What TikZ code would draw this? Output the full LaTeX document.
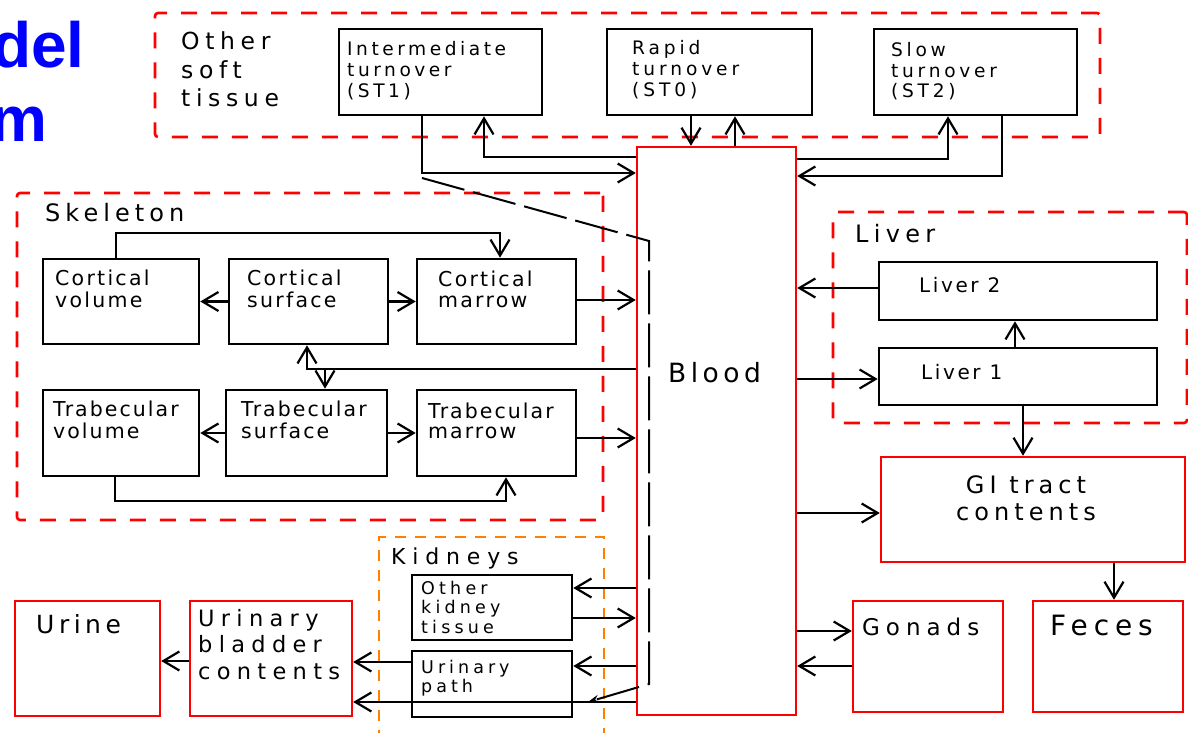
\documentclass[tikz,border=0pt]{standalone}
\usepackage{fontspec}
\setmainfont{DejaVu Sans}
\newfontfamily\headfont{Liberation Sans}
\usetikzlibrary{arrows.meta}
\definecolor{grpred}{RGB}{255,0,0}
\definecolor{kidorange}{RGB}{255,128,0}
\definecolor{titleblue}{RGB}{0,0,255}

% size, letter spacing
\newcommand\fz[2]{\fontsize{#1}{#1}\selectfont\addfontfeatures{LetterSpace=#2}}
% stacked lines: first baseline is the box baseline
\newcommand\lns[2]{\vtop{\baselineskip=#1\relax\lineskiplimit=-\maxdimen\let\\\cr\halign{##\hfil\cr#2\crcr}}}
\newcommand\clns[2]{\vtop{\baselineskip=#1\relax\lineskiplimit=-\maxdimen\let\\\cr\halign{\hfil##\hfil\cr#2\crcr}}}

\begin{document}
\begin{tikzpicture}[x=1pt,y=-1pt,
  grp/.style={draw=grpred, line width=2.6pt, dash pattern=on 16pt off 14pt, rounded corners=3pt, inner sep=0pt},
  kgrp/.style={draw=kidorange, line width=2.6pt, dash pattern=on 11pt off 9pt, inner sep=0pt},
  blk/.style={draw=black, line width=2.6pt, inner sep=0pt},
  rbox/.style={draw=grpred, line width=2.4pt, inner sep=0pt},
  txt/.style={inner sep=0pt, anchor=base west},
  ctxt/.style={inner sep=0pt, anchor=base},
  arr/.style={line width=2.2pt, -{Straight Barb[length=16pt,width=19pt]}},
  lds/.style={line width=2pt, dash pattern=on 44pt off 9pt, -{Stealth[length=11pt,width=8pt]}}]

\useasboundingbox (0,0) rectangle (1188,733);
\fill[white] (0,0) rectangle (1188,733);

% heading fragment
\node[txt, text=titleblue, font=\headfont\bfseries\fontsize{64}{64}\selectfont] (hd1) at (-8,68) {del};
\node[txt, text=titleblue, font=\headfont\bfseries\fontsize{64}{64}\selectfont] (hd2) at (-10,142) {m};

% compartment groups
\node[grp, minimum width=945, minimum height=124] (gost) at (627.5,75) {};
\node[grp, minimum width=586, minimum height=327] (gskel) at (310,356.5) {};
\node[grp, minimum width=354, minimum height=211] (gliv) at (1010,317.5) {};
\node[kgrp, minimum width=225, minimum height=197] (gkid) at (491.5,635.5) {};

\node[txt, font=\fz{23.5}{24}] (lost) at (181,50) {\lns{28.5pt}{Other\\soft\\tissue}};
\node[txt, font=\fz{24}{21}] (lskel) at (45,221) {Skeleton};
\node[txt, font=\fz{24}{22}] (lliv) at (855,242) {Liver};
\node[txt, font=\fz{22}{31}] (lkid) at (391,564) {Kidneys};

% soft tissue compartments
\node[blk, minimum width=203, minimum height=86] (st1) at (440.5,72) {};
\node[blk, minimum width=205, minimum height=86] (st0) at (709.5,72) {};
\node[blk, minimum width=203, minimum height=86] (st2) at (975.5,72) {};
\node[txt, font=\fz{18.6}{19}] (tst1) at (347,56) {\lns{21pt}{Intermediate\\turnover\\(ST1)}};
\node[txt, font=\fz{18.6}{21}] (tst0) at (632,55) {\lns{21pt}{Rapid\\turnover\\(ST0)}};
\node[txt, font=\fz{18.6}{20}] (tst2) at (891,57) {\lns{20.5pt}{Slow\\turnover\\(ST2)}};

% skeleton compartments
\node[blk, minimum width=156, minimum height=85] (cv) at (121,301.5) {};
\node[blk, minimum width=159, minimum height=85] (cs) at (308.5,301.5) {};
\node[blk, minimum width=159, minimum height=85] (cm) at (496.5,301.5) {};
\node[blk, minimum width=156, minimum height=86] (tv) at (121,433) {};
\node[blk, minimum width=161, minimum height=86] (ts) at (306.5,433) {};
\node[blk, minimum width=159, minimum height=86] (tm) at (496.5,433) {};
\node[txt, font=\fz{20.5}{11}] (tcv) at (55,285) {\lns{22pt}{Cortical\\volume}};
\node[txt, font=\fz{20.5}{11}] (tcs) at (247,285) {\lns{22pt}{Cortical\\surface}};
\node[txt, font=\fz{20.5}{11}] (tcm) at (438,286) {\lns{21pt}{Cortical\\marrow}};
\node[txt, font=\fz{20.5}{10}] (ttv) at (53,416) {\lns{22pt}{Trabecular\\volume}};
\node[txt, font=\fz{20.5}{10}] (tts) at (241,416) {\lns{22pt}{Trabecular\\surface}};
\node[txt, font=\fz{20.5}{10}] (ttm) at (428,418) {\lns{20pt}{Trabecular\\marrow}};

% blood
\node[rbox, minimum width=159, minimum height=568] (blood) at (716.5,431) {};
\node[txt, font=\fz{26.5}{17}] (tblood) at (668,382) {Blood};

% liver
\node[blk, minimum width=278, minimum height=58] (liv2) at (1018,291) {};
\node[blk, minimum width=278, minimum height=57] (liv1) at (1018,376.5) {};
\node[txt, font=\fz{20}{13}] (tliv2) at (919,292) {Liver 2};
\node[txt, font=\fz{20}{13}] (tliv1) at (921,379) {Liver 1};

% gut, gonads, excreta
\node[rbox, minimum width=304, minimum height=105] (gi) at (1033,509.5) {};
\node[ctxt, font=\fz{24}{21}] (tgi) at (1026,493) {\clns{27pt}{GI tract\\contents}};
\node[rbox, minimum width=150, minimum height=111] (gon) at (928,656.5) {};
\node[rbox, minimum width=150, minimum height=111] (fec) at (1108,656.5) {};
\node[txt, font=\fz{23}{26}] (tgon) at (862,635) {Gonads};
\node[txt, font=\fz{28}{21}] (tfec) at (1050,635) {Feces};

% kidneys and urinary tract
\node[blk, minimum width=160, minimum height=65] (okt) at (492,607.5) {};
\node[blk, minimum width=160, minimum height=66] (upath) at (492,684) {};
\node[txt, font=\fz{17.5}{24}] (tokt) at (421,594) {\lns{19.5pt}{Other\\kidney\\tissue}};
\node[txt, font=\fz{17.5}{23}] (tupath) at (421,673) {\lns{19.5pt}{Urinary\\path}};
\node[rbox, minimum width=145, minimum height=115] (urine) at (87.5,658.5) {};
\node[rbox, minimum width=162, minimum height=115] (ubc) at (271,658.5) {};
\node[txt, font=\fz{25}{18}] (turine) at (36,633) {Urine};
\node[txt, font=\fz{22.5}{28}] (tubc) at (198,626) {\lns{26.5pt}{Urinary\\bladder\\contents}};

% soft tissue exchange
\draw[arr] (422,0 |- st1.south) |- (blood.west |- 0,173);
\draw[arr] (blood.west |- 0,157) -| (484,0 |- st1.south);
\draw[arr] (691,0 |- st0.south) -- (691,0 |- blood.north);
\draw[arr] (735,0 |- blood.north) -- (735,0 |- st0.south);
\draw[arr] (blood.east |- 0,159) -| (948,0 |- st2.south);
\draw[arr] (1002,0 |- st2.south) |- (blood.east |- 0,176);

% skeleton exchange
\draw[arr] (116,0 |- cv.north) -- (116,233) -| (500,0 |- cm.north);
\draw[arr] (cs.west) -- (cv.east);
\draw[arr] (cs.east) -- (cm.west);
\draw[arr] (cm.east |- 0,300) -- (blood.west |- 0,300);
\coordinate (sj) at (325,369);
\draw[arr] (blood.west |- sj) -| (307,0 |- cs.south);
\draw[arr] (sj) -- (sj |- ts.north);
\draw[arr] (ts.west) -- (tv.east);
\draw[arr] (ts.east) -- (tm.west);
\draw[arr] (tm.east |- 0,438) -- (blood.west |- 0,438);
\draw[arr] (115,0 |- tv.south) -- (115,501) -| (506,0 |- tm.south);

% liver and gut
\draw[arr] (liv2.west |- 0,288) -- (blood.east |- 0,288);
\draw[arr] (blood.east |- 0,379) -- (liv1.west |- 0,379);
\draw[arr] (1015,0 |- liv1.north) -- (1015,0 |- liv2.south);
\draw[arr] (1023,0 |- liv1.south) -- (1023,0 |- gi.north);
\draw[arr] (blood.east |- 0,513) -- (gi.west |- 0,513);
\draw[arr] (1114,0 |- gi.south) -- (1114,0 |- fec.north);
\draw[arr] (blood.east |- 0,631) -- (gon.west |- 0,631);
\draw[arr] (gon.west |- 0,666) -- (blood.east |- 0,666);

% kidneys and urinary tract
\draw[arr] (blood.west |- 0,588) -- (okt.east |- 0,588);
\draw[arr] (okt.east |- 0,618) -- (blood.west |- 0,618);
\draw[arr] (blood.west |- 0,666) -- (upath.east |- 0,666);
\draw[arr] (blood.west |- 0,702) -- (ubc.east |- 0,702);
\draw[arr] (upath.west |- 0,662) -- (ubc.east |- 0,662);
\draw[arr] (ubc.west |- 0,661) -- (urine.east |- 0,661);

% long-dashed route from ST1 to the urinary path
\coordinate (d0) at (422,178);
\coordinate (d1) at (649,241);
\coordinate (d2) at (649,684);
\coordinate (d3) at (588,702);
\draw[lds] (d0) -- (d1) -- (d2) -- (d3);
\end{tikzpicture}
\end{document}
